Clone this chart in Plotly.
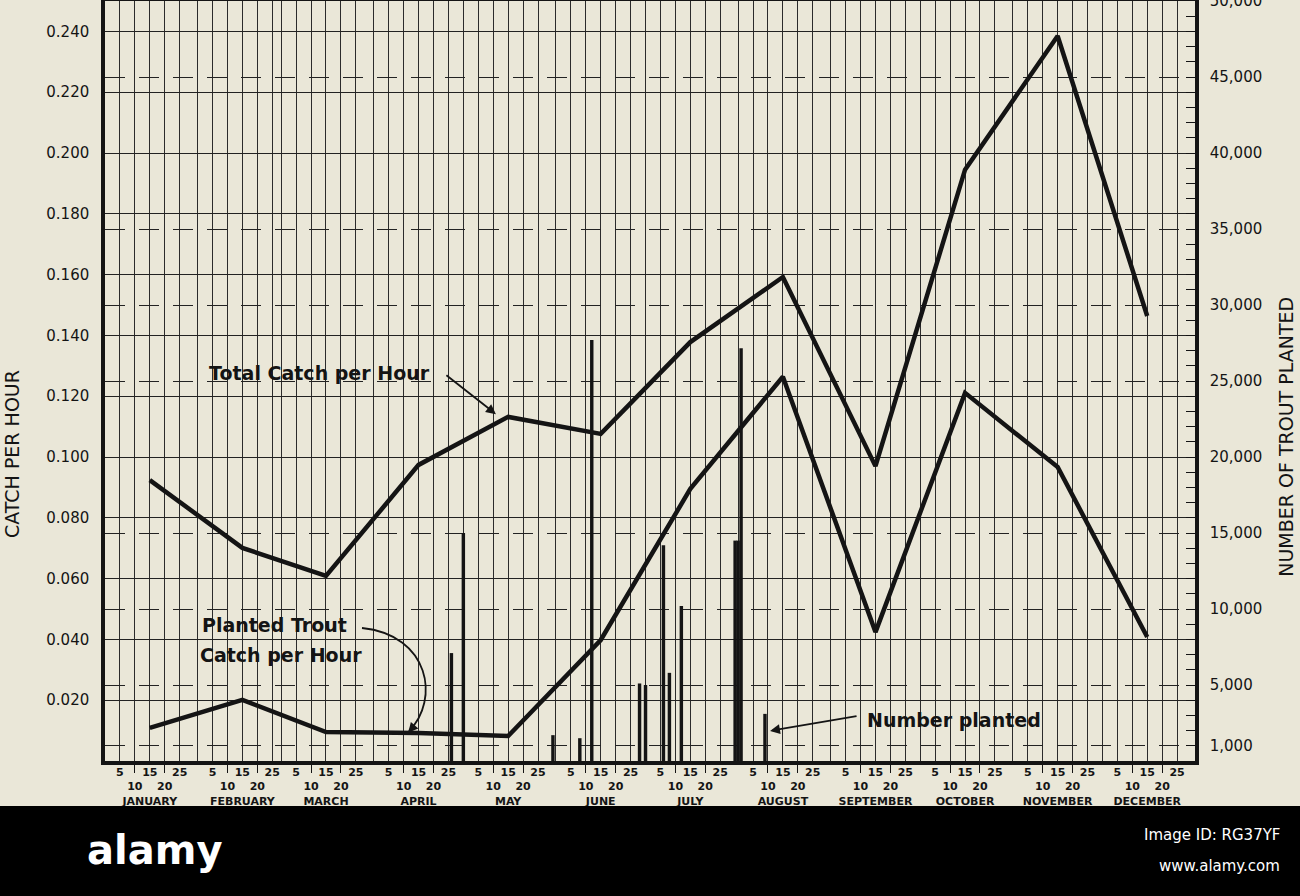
import plotly.graph_objects as go

# ---------------- data ----------------
MONTHS = ["JANUARY", "FEBRUARY", "MARCH", "APRIL", "MAY", "JUNE", "JULY",
          "AUGUST", "SEPTEMBER", "OCTOBER", "NOVEMBER", "DECEMBER"]
MONTH_DAYS = [31, 28, 31, 30, 31, 30, 31, 31, 30, 31, 30, 31]
DAY_TICKS = [5, 10, 15, 20, 25]

sample_dates = ["01-15", "02-15", "03-15", "04-15", "05-15", "06-15",
                "07-15", "08-15", "09-15", "10-15", "11-15", "12-15"]
total_catch = [0.0924, 0.0701, 0.0609, 0.0974, 0.1132, 0.1076,
               0.1378, 0.1592, 0.0970, 0.1945, 0.2385, 0.1464]
planted_catch = [0.0109, 0.0201, 0.0095, 0.0092, 0.0082, 0.0398,
                 0.0895, 0.1264, 0.0424, 0.1211, 0.0967, 0.0408]

plant_dates = ["04-26", "04-30", "05-30", "06-08", "06-12", "06-28", "06-30",
               "07-06", "07-08", "07-12", "07-30", "07-31", "08-01", "08-09"]
plant_counts = [7100, 15000, 1700, 1500, 27700, 5100, 5000,
                14200, 5800, 10200, 14500, 14500, 27150, 3100]

left_ticks = [0.02, 0.04, 0.06, 0.08, 0.10, 0.12, 0.14, 0.16, 0.18, 0.20, 0.22, 0.24]
left_labels = ["0.020", "0.040", "0.060", "0.080", "0.100", "0.120",
               "0.140", "0.160", "0.180", "0.200", "0.220", "0.240"]
right_ticks = [1000, 5000, 10000, 15000, 20000, 25000, 30000, 35000, 40000, 45000, 50000]
right_labels = ["1,000", "5,000", "10,000", "15,000", "20,000", "25,000",
                "30,000", "35,000", "40,000", "45,000", "50,000"]

# ---------------- helpers ----------------
cum = [0]
for d in MONTH_DAYS[:-1]:
    cum.append(cum[-1] + d)


def doy(s):
    m, d = s.split("-")
    return cum[int(m) - 1] + int(d)


x_samples = [doy(s) for s in sample_dates]
x_plants = [doy(s) for s in plant_dates]

tickvals, ticktext, minor_vals = [], [], []
for i, name in enumerate(MONTHS):
    start = cum[i]
    tickvals.append(start)
    ticktext.append("")
    for d in DAY_TICKS:
        tickvals.append(start + d)
        if d == 15:
            ticktext.append("15<br> <br>" + name)
        elif d in (10, 20):
            ticktext.append("<br>" + str(d))
            minor_vals.append(start + d)
        else:
            ticktext.append(str(d))

BG = "#EAE7D8"
INK = "#141414"

fig = go.Figure()
fig.add_trace(go.Bar(x=x_plants, y=plant_counts, yaxis="y2", width=1.15,
                     marker=dict(color=INK, line=dict(width=0)), hoverinfo="x+y"))
fig.add_trace(go.Scatter(x=x_samples, y=total_catch, mode="lines",
                         line=dict(color=INK, width=4.5)))
fig.add_trace(go.Scatter(x=x_samples, y=planted_catch, mode="lines",
                         line=dict(color=INK, width=4.5)))

fig.update_layout(
    width=1300, height=896,
    margin=dict(l=105, r=105, t=1, b=135, autoexpand=False),
    paper_bgcolor=BG, plot_bgcolor=BG,
    showlegend=False, barmode="overlay",
    font=dict(family="DejaVu Sans", color=INK),
    xaxis=dict(
        range=[0, 365], tickmode="array", tickvals=tickvals, ticktext=ticktext,
        tickangle=0, ticks="", showgrid=True, gridcolor="#2b2b2b", gridwidth=1,
        showline=True, linewidth=3.5, linecolor=INK, mirror=True, zeroline=False,
        automargin=False, ticklabelstandoff=-2,
        tickfont=dict(size=11, family="DejaVu Sans", weight="bold", color=INK),
        minor=dict(tickmode="array", tickvals=minor_vals, ticks="outside",
                   ticklen=8, tickwidth=1.2, tickcolor=INK, showgrid=False),
    ),
    yaxis=dict(
        range=[0, 0.25], tickmode="array", tickvals=left_ticks, ticktext=left_labels,
        showgrid=True, gridcolor="#222222", gridwidth=1.2, ticks="",
        showline=True, linewidth=3.5, linecolor=INK, zeroline=False,
        automargin=False,
        ticklabelstandoff=9, tickfont=dict(size=15, color=INK),
    ),
    yaxis2=dict(
        range=[0, 50000], overlaying="y", side="right", tickmode="array",
        tickvals=right_ticks, ticktext=right_labels,
        showgrid=True, gridcolor="#222222", gridwidth=1.2, griddash="20px,14px",
        showline=True, linewidth=3.5, linecolor=INK, zeroline=False,
        automargin=False, ticklabeloverflow="allow",
        ticks="inside", ticklen=9, tickwidth=1.2, tickcolor=INK,
        minor=dict(tickmode="linear", tick0=0, dtick=1000, ticks="inside",
                   ticklen=9, tickwidth=1.2, tickcolor=INK, showgrid=False),
        ticklabelstandoff=8, tickfont=dict(size=15, color=INK),
    ),
)

lbl = dict(size=19, family="DejaVu Sans", weight="bold", color=INK)
arrow = dict(showarrow=True, arrowhead=2, arrowsize=1.1, arrowwidth=1.8,
             arrowcolor=INK, text="")

annotations = [
    dict(x=34.2, y=0.1276, xref="x", yref="y", text="Total Catch per Hour",
         showarrow=False, xanchor="left", yanchor="middle", font=lbl),
    dict(x=130.9, y=0.1141, xref="x", yref="y", ax=-51, ay=-40, **arrow),
    dict(x=31.8, y=0.0447, xref="x", yref="y", text="Planted Trout",
         showarrow=False, xanchor="left", yanchor="middle", font=lbl),
    dict(x=31.1, y=0.0349, xref="x", yref="y", text="Catch per Hour",
         showarrow=False, xanchor="left", yanchor="middle", font=lbl),
    dict(x=101.5, y=0.0093, xref="x", yref="y", ax=7, ay=-8, **arrow),
    dict(x=254.5, y=0.0135, xref="x", yref="y", text="Number planted",
         showarrow=False, xanchor="left", yanchor="middle", font=lbl),
    dict(x=222.7, y=0.0099, xref="x", yref="y", ax=88, ay=-15, **arrow),
    dict(x=-0.0853, y=0.404, xref="paper", yref="paper", text="CATCH PER HOUR",
         textangle=-90, showarrow=False, xanchor="center", yanchor="middle",
         font=dict(size=19, family="DejaVu Sans", color=INK)),
    dict(x=1.084, y=0.426, xref="paper", yref="paper", text="NUMBER OF TROUT PLANTED",
         textangle=-90, showarrow=False, xanchor="center", yanchor="middle",
         font=dict(size=19, family="DejaVu Sans", color=INK)),
    dict(x=0.045, y=-0.117, xref="paper", yref="paper", text="alamy",
         showarrow=False, xanchor="center", yanchor="middle",
         font=dict(size=40, family="DejaVu Sans", weight="bold", color="white")),
    dict(x=1.08, y=-0.097, xref="paper", yref="paper", text="Image ID: RG37YF",
         showarrow=False, xanchor="right", yanchor="middle",
         font=dict(size=15, family="DejaVu Sans", color="white")),
    dict(x=1.08, y=-0.138, xref="paper", yref="paper", text="www.alamy.com",
         showarrow=False, xanchor="right", yanchor="middle",
         font=dict(size=15, family="DejaVu Sans", color="white")),
]
fig.update_layout(annotations=annotations)

fig.add_shape(type="path", xref="x", yref="y",
              path="M 86.06,0.04375 C 108.83,0.04145 112.18,0.02007 101.8,0.00987",
              line=dict(color=INK, width=1.8))
fig.add_shape(type="rect", xref="paper", yref="paper",
              x0=-0.1, x1=1.1, y0=-0.2, y1=-0.0592,
              fillcolor="black", line=dict(width=0), layer="above")

fig.write_html("out.html",
               config={"displayModeBar": False},
               post_script="document.body.style.margin='0px';"
                           "document.body.style.overflow='hidden';")
